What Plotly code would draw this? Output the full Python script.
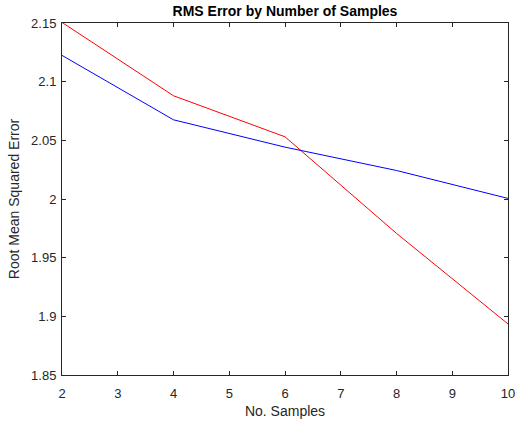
import plotly.graph_objects as go

samples = [2, 4, 6, 8, 10]
rmse_red = [2.1505, 2.088, 2.053, 1.9707, 1.8935]
rmse_blue = [2.1224, 2.0675, 2.0442, 2.0243, 2.0005]

fig = go.Figure()
fig.add_trace(go.Scatter(x=samples, y=rmse_red, mode="lines",
                         line=dict(color="#ff0000", width=1), showlegend=False))
fig.add_trace(go.Scatter(x=samples, y=rmse_blue, mode="lines",
                         line=dict(color="#0000ff", width=1), showlegend=False))

axcol = "#262626"
fig.update_layout(
    width=517, height=423,
    margin=dict(l=62, r=9, t=23, b=48),
    paper_bgcolor="white", plot_bgcolor="white",
    font=dict(family="Liberation Sans, Arial, sans-serif", size=13, color=axcol),
    title=dict(text="<b>RMS Error by Number of Samples</b>", x=285 / 517, xanchor="center",
               y=1 - 11 / 423, yanchor="middle", font=dict(size=14, color="black")),
    xaxis=dict(range=[2, 10], tickvals=list(range(2, 11)), showgrid=False, zeroline=False,
               showline=True, linecolor=axcol, linewidth=1, mirror="ticks",
               ticks="inside", ticklen=4, tickcolor=axcol, automargin=False,
               ticklabelstandoff=6,
               title=dict(text="No. Samples", standoff=6, font=dict(size=14))),
    yaxis=dict(range=[1.85, 2.15], tickvals=[1.85, 1.9, 1.95, 2.0, 2.05, 2.1, 2.15],
               ticktext=["1.85", "1.9", "1.95", "2", "2.05", "2.1", "2.15"],
               showgrid=False, zeroline=False, automargin=False,
               showline=True, linecolor=axcol, linewidth=1, mirror="ticks",
               ticks="inside", ticklen=4, tickcolor=axcol, ticklabelstandoff=2,
               title=dict(text="Root Mean Squared Error", standoff=8, font=dict(size=14))),
)
fig.write_html("out.html")
